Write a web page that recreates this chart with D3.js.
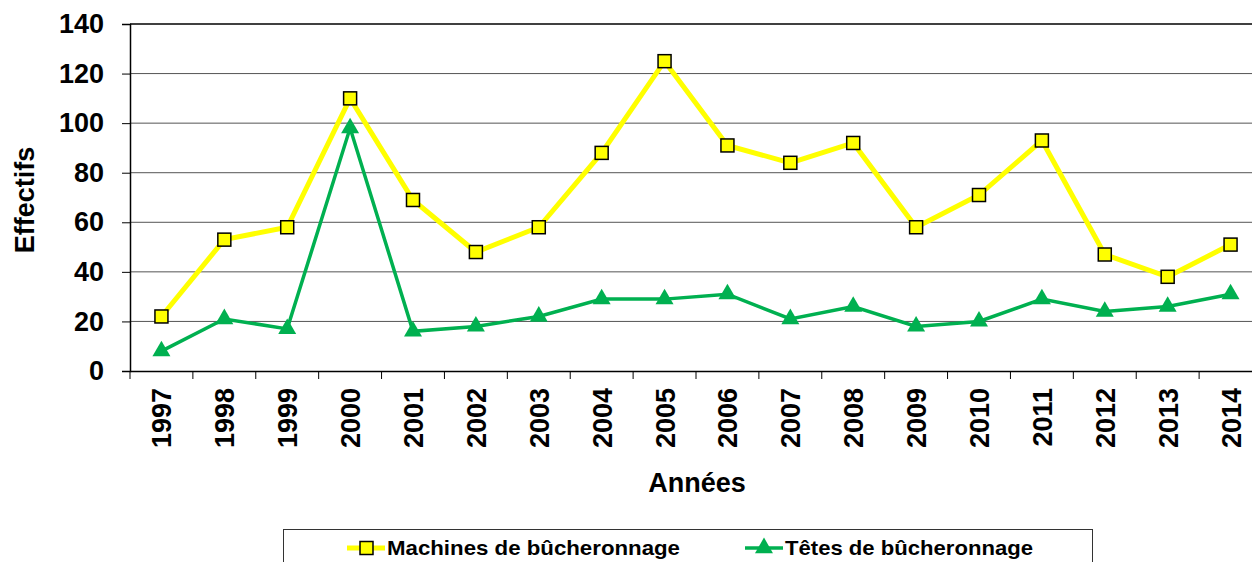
<!DOCTYPE html>
<html>
<head>
<meta charset="utf-8">
<script src="https://cdn.jsdelivr.net/npm/d3@7"></script>
<style>
body { margin: 0; background: #fff; }
svg { display: block; font-family: "Liberation Sans", Arial, sans-serif; font-weight: bold; }
</style>
</head>
<body>
<div id="chart"></div>
<script>
var years = ["1997", "1998", "1999", "2000", "2001", "2002", "2003", "2004", "2005",
	"2006", "2007", "2008", "2009", "2010", "2011", "2012", "2013", "2014"];
var machines = [22, 53, 58, 110, 69, 48, 58, 88, 125, 91, 84, 92, 58, 71, 93, 47, 38, 51];
var tetes = [8, 21, 17, 98, 16, 18, 22, 29, 29, 31, 21, 26, 18, 20, 29, 24, 26, 31];
var yTicks = [0, 20, 40, 60, 80, 100, 120, 140];
var seriesNames = ["Machines de bûcheronnage", "Têtes de bûcheronnage"];

var width = 1252, height = 562;
var svg = d3.select("#chart").append("svg")
	.attr("width", width)
	.attr("height", height);

var x = d3.scaleBand().domain(years).range([130, 1262]);
var y = d3.scaleLinear().domain([0, 140]).range([371, 24]);

// gridlines
svg.append("g")
	.selectAll("line")
	.data(yTicks.slice(1))
	.enter()
	.append("line")
	.attr("x1", 130)
	.attr("x2", 1262)
	.attr("y1", function(d) { return y(d); })
	.attr("y2", function(d) { return y(d); })
	.attr("stroke", function(d) { return d == 140 ? "#000" : "#555"; })
	.attr("stroke-width", function(d) { return d == 140 ? 1.5 : 1; });

// y axis
var yAxis = svg.append("g")
	.attr("transform", "translate(130,0)")
	.call(d3.axisLeft(y).tickValues(yTicks).tickSize(8).tickPadding(18));
yAxis.select(".domain").attr("stroke-width", 1.5);
yAxis.selectAll("text")
	.attr("font-size", 27)
	.attr("font-family", "Liberation Sans, Arial, sans-serif")
	.attr("font-weight", "bold")
	.attr("fill", "#000");

// x axis
var xAxis = svg.append("g")
	.attr("transform", "translate(0,371)")
	.call(d3.axisBottom(x).tickSize(0).tickFormat(""));
xAxis.select(".domain").attr("stroke-width", 1.5);
svg.append("g")
	.selectAll("line")
	.data(years)
	.enter()
	.append("line")
	.attr("x1", function(d) { return x(d); })
	.attr("x2", function(d) { return x(d); })
	.attr("y1", 371)
	.attr("y2", 379)
	.attr("stroke", "#000");
svg.append("g")
	.selectAll("text")
	.data(years)
	.enter()
	.append("text")
	.attr("transform", function(d) {
		return "translate(" + (x(d) + x.bandwidth() / 2 + 10) + ",388) rotate(-90)";
	})
	.attr("text-anchor", "end")
	.attr("font-size", 27)
	.text(function(d) { return d; });

// axis titles
svg.append("text")
	.attr("x", 697)
	.attr("y", 492)
	.attr("text-anchor", "middle")
	.attr("font-size", 27)
	.text("Années");
svg.append("text")
	.attr("transform", "translate(34,200) rotate(-90)")
	.attr("text-anchor", "middle")
	.attr("font-size", 27)
	.text("Effectifs");

var line = d3.line()
	.x(function(d, i) { return x(years[i]) + x.bandwidth() / 2; })
	.y(function(d) { return y(d); });

svg.append("path")
	.datum(tetes)
	.attr("d", line)
	.attr("fill", "none")
	.attr("stroke", "#00b050")
	.attr("stroke-width", 3.5);
svg.append("path")
	.datum(machines)
	.attr("d", line)
	.attr("fill", "none")
	.attr("stroke", "#ffff00")
	.attr("stroke-width", 5);

var tri = d3.symbol().type(d3.symbolTriangle).size(140);
svg.append("g")
	.selectAll("path")
	.data(tetes)
	.enter()
	.append("path")
	.attr("d", tri)
	.attr("transform", function(d, i) {
		return "translate(" + (x(years[i]) + x.bandwidth() / 2) + "," + y(d) + ")";
	})
	.attr("fill", "#00b050");

svg.append("g")
	.selectAll("rect")
	.data(machines)
	.enter()
	.append("rect")
	.attr("x", function(d, i) { return x(years[i]) + x.bandwidth() / 2 - 6.5; })
	.attr("y", function(d) { return y(d) - 6.5; })
	.attr("width", 13)
	.attr("height", 13)
	.attr("fill", "#ffff00")
	.attr("stroke", "#000")
	.attr("stroke-width", 1.5);

// legend
var legend = svg.append("g");
legend.append("rect")
	.attr("x", 283.5)
	.attr("y", 529.5)
	.attr("width", 809)
	.attr("height", 60)
	.attr("fill", "#fff")
	.attr("stroke", "#333")
	.attr("stroke-width", 1);

var legendX = [347, 745];
var legendColors = ["#ffff00", "#00b050"];
var items = legend.selectAll(".item")
	.data(seriesNames)
	.enter()
	.append("g")
	.attr("transform", function(d, i) { return "translate(" + legendX[i] + ",548)"; });
items.append("line")
	.attr("x1", 0)
	.attr("x2", 38)
	.attr("stroke", function(d, i) { return legendColors[i]; })
	.attr("stroke-width", function(d, i) { return i == 0 ? 5 : 3.5; });
items.filter(function(d, i) { return i == 0; })
	.append("rect")
	.attr("x", 13).attr("y", -6.5)
	.attr("width", 13).attr("height", 13)
	.attr("fill", "#ffff00")
	.attr("stroke", "#000")
	.attr("stroke-width", 1.5);
items.filter(function(d, i) { return i == 1; })
	.append("path")
	.attr("d", tri)
	.attr("transform", "translate(19,0)")
	.attr("fill", "#00b050");
items.append("text")
	.attr("x", 40)
	.attr("y", 7)
	.attr("font-size", 21)
	.attr("textLength", function(d, i) { return i == 0 ? 293 : 248; })
	.attr("lengthAdjust", "spacingAndGlyphs")
	.text(function(d) { return d; });
</script>
</body>
</html>
